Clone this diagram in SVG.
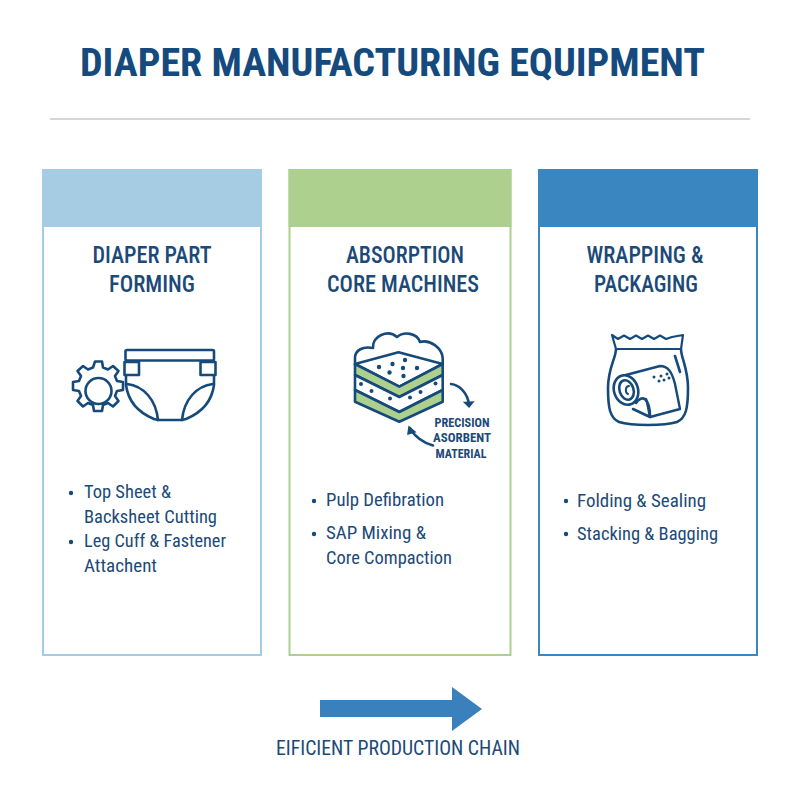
<svg xmlns="http://www.w3.org/2000/svg" width="800" height="800" viewBox="0 0 800 800">
<style>
text{font-family:"Roboto Condensed",Roboto,"Liberation Sans",sans-serif;fill:#1c4a78}
.title{font-size:38px;font-weight:700;fill:#154a7e}
.head{font-size:24px;font-weight:500;text-anchor:middle}
.item{font-size:18px;font-weight:400}
.small{font-size:13px;font-weight:700;text-anchor:middle}
.cap{font-size:20px;font-weight:400;text-anchor:middle}
.dot{fill:#164a7a}
.ln{fill:none;stroke:#164a7a;stroke-width:2.6;stroke-linejoin:round;stroke-linecap:round}
.bg{fill:#fff}
</style>
<rect width="800" height="800" fill="#fff"/>
<text id="title" class="title" x="80" y="76" textLength="625" lengthAdjust="spacingAndGlyphs">DIAPER MANUFACTURING EQUIPMENT</text>
<line x1="50" y1="119" x2="750" y2="119" stroke="#c8c9c9" stroke-width="1.6"/>

<g id="node-forming">
<rect x="43" y="170" width="218" height="485" fill="#fff" stroke="#a6cce4" stroke-width="2"/>
<rect x="42" y="169" width="220" height="58" fill="#a6cce4"/>
<text class="head" x="152" y="263" textLength="119" lengthAdjust="spacingAndGlyphs">DIAPER PART</text>
<text class="head" x="152" y="292" textLength="86" lengthAdjust="spacingAndGlyphs">FORMING</text>
<g class="ln">
<path d="M95 361.5h7l1 6 5 2 5-3.500 5.500 5-3.500 5 2 5 6 1v8l-6 1-2 5 3.500 5-5.500 5.500-5-3.500-5 2-1 6h-8l-1-6-5-2-5 3.500-5.500-5.500 3.500-5-2-5-6-1v-8l6-1 2-5-3.500-5 5.500-5 5 3.500 5-2z" fill="#fff"/>
<circle cx="98.500" cy="391" r="13"/>
<path d="M126 362V385C128 400 137 412 154 419L158 420H182L186 419C203 412 212 400 214 385V362" fill="#fff"/>
<rect x="125.500" y="350" width="88.500" height="10.500" rx="1.500" fill="#fff"/>
<rect x="124.500" y="362" width="14.500" height="13" fill="#fff"/>
<rect x="200.500" y="362" width="15" height="13" fill="#fff"/>
<path d="M127 384C144 386 156 400 158 420M213 384C196 386 184 400 182 420"/>
</g>
<circle cx="71" cy="493" r="2.200" class="dot"/>
<text class="item" x="84" y="498" textLength="87" lengthAdjust="spacingAndGlyphs">Top Sheet &amp;</text>
<text class="item" x="84" y="523" textLength="133" lengthAdjust="spacingAndGlyphs">Backsheet Cutting</text>
<circle cx="71" cy="542" r="2.200" class="dot"/>
<text class="item" x="84" y="547" textLength="142" lengthAdjust="spacingAndGlyphs">Leg Cuff &amp; Fastener</text>
<text class="item" x="84" y="572" textLength="73" lengthAdjust="spacingAndGlyphs">Attachent</text>
</g>

<g id="node-core">
<rect x="289.500" y="170" width="221" height="485" fill="#fff" stroke="#aed08f" stroke-width="2"/>
<rect x="288.500" y="169" width="223" height="58" fill="#aed08f"/>
<text class="head" x="405" y="263" textLength="118" lengthAdjust="spacingAndGlyphs">ABSORPTION</text>
<text class="head" x="403" y="292" textLength="152" lengthAdjust="spacingAndGlyphs">CORE MACHINES</text>
<g class="ln">
<path d="M355 364V358C355 350 363 346 373 348C372 336 388 329 397 337C404 331 417 333 420 342C430 339 442 348 442.700 358V364"/>
<path d="M355 364L398.500 352.300L442.700 364L399.300 386.700Z" fill="#fff"/>
<path d="M355 364V375L399.300 397L442.700 375V364L399.300 386.700Z" fill="#aed08f"/>
<path d="M355 375V390L399.300 412L442.700 390V375L399.300 397Z" fill="#fff"/>
<path d="M355 390V401.700L399.300 421.700L442.700 401.700V390L399.300 412Z" fill="#aed08f"/>
<path d="M451 384C459 385 467 392 469 404"/>
<path d="M433 445.500C423 443 414 436 410 428"/>
</g>
<path d="M464.500 402.500L473 402L469 407Z" class="dot" stroke="#164a7a" stroke-width="1.500"/>
<path d="M409 427L415 432L408 434Z" class="dot" stroke="#164a7a" stroke-width="1.500"/>
<g class="dot">
<circle cx="405" cy="360" r="2.200"/><circle cx="379" cy="367" r="2.200"/><circle cx="392.500" cy="364" r="2.200"/><circle cx="403" cy="368" r="2.200"/><circle cx="417" cy="368" r="2.200"/><circle cx="389.500" cy="372.500" r="2.200"/><circle cx="403.500" cy="376" r="2.200"/>
<circle cx="361" cy="384" r="2"/><circle cx="371.500" cy="391" r="2"/><circle cx="390" cy="398.500" r="2"/><circle cx="410" cy="397.500" r="2"/><circle cx="420.500" cy="392" r="2"/><circle cx="435.500" cy="383.500" r="2"/>
</g>
<text class="small" x="462" y="427" textLength="55" lengthAdjust="spacingAndGlyphs">PRECISION</text>
<text class="small" x="462" y="442" textLength="58" lengthAdjust="spacingAndGlyphs">ASORBENT</text>
<text class="small" x="461" y="458" textLength="51" lengthAdjust="spacingAndGlyphs">MATERIAL</text>
<circle cx="314" cy="501" r="2.200" class="dot"/>
<text class="item" x="326" y="506" textLength="118" lengthAdjust="spacingAndGlyphs">Pulp Defibration</text>
<circle cx="314" cy="534" r="2.200" class="dot"/>
<text class="item" x="326" y="539" textLength="100" lengthAdjust="spacingAndGlyphs">SAP Mixing &amp;</text>
<text class="item" x="326" y="564" textLength="126" lengthAdjust="spacingAndGlyphs">Core Compaction</text>
</g>

<g id="node-packaging">
<rect x="539" y="170" width="218" height="485" fill="#fff" stroke="#3a86c0" stroke-width="2"/>
<rect x="538" y="169" width="220" height="58" fill="#3a86c0"/>
<text class="head" x="645" y="263" textLength="117" lengthAdjust="spacingAndGlyphs">WRAPPING &amp;</text>
<text class="head" x="646" y="292" textLength="104" lengthAdjust="spacingAndGlyphs">PACKAGING</text>
<g class="ln">
<path d="M612 335L618 339L624 335.500L630 339L636 335.500L642 339L648 335.500L654 339L660 335.500L666 339L672 337L683 335M612 335L616 349H681L683 335" stroke-width="2.200"/>
<path d="M616 349C616 358 608 368 608 388C608 408 610 418 619 422C632 426 664 426 677 422C686 418 688 408 688 388C688 368 681 358 681 349"/>
<path d="M675 356L680 372" />
<path d="M622 376L660 366C668 366 672 372 675 384L680 409L650 417C648 409 648 404 646 399" fill="#fff" stroke-width="2.400"/>
<ellipse cx="626" cy="390" rx="12" ry="15" transform="rotate(-18 626 390)" fill="#fff"/>
<ellipse cx="626.500" cy="390" rx="7" ry="10" transform="rotate(-18 626.500 390)"/>
<path d="M629 386C625 386 625 393 628 394" stroke-width="2"/>
<path d="M636 403C642 394 650 398 650 417L633 409"/>
</g>
<g class="dot">
<circle cx="654" cy="377" r="1.500"/><circle cx="661" cy="376" r="1.500"/><circle cx="667" cy="374" r="1.500"/><circle cx="659" cy="381" r="1.500"/><circle cx="664" cy="380" r="1.500"/><circle cx="669" cy="378" r="1.500"/>
</g>
<circle cx="566" cy="501" r="2.200" class="dot"/>
<text class="item" x="577" y="507" textLength="129" lengthAdjust="spacingAndGlyphs">Folding &amp; Sealing</text>
<circle cx="566" cy="534" r="2.200" class="dot"/>
<text class="item" x="577" y="540" textLength="141" lengthAdjust="spacingAndGlyphs">Stacking &amp; Bagging</text>
</g>

<g id="connectors">
<path d="M320 700H452V687L482 709L452 731V717H320Z" fill="#3a80bd"/>
</g>
<text id="caption" class="cap" x="398" y="755" textLength="244" lengthAdjust="spacingAndGlyphs">EIFICIENT PRODUCTION CHAIN</text>
</svg>
